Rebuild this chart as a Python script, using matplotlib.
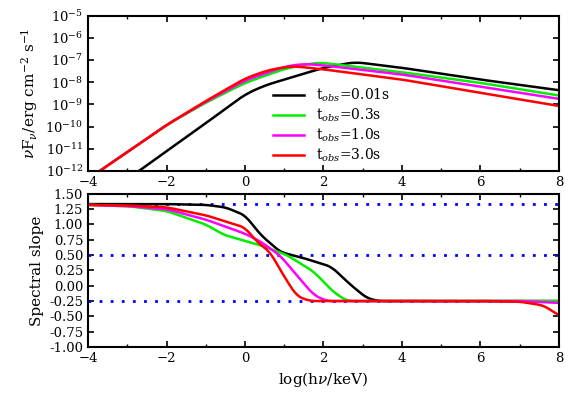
import numpy as np
import matplotlib.pyplot as plt
from matplotlib.ticker import MultipleLocator, LogLocator

plt.rcParams['font.family'] = ['DejaVu Serif']
plt.rcParams['mathtext.fontset'] = 'dejavuserif'

labels = ['t$_{obs}$=0.01s', 't$_{obs}$=0.3s', 't$_{obs}$=1.0s', 't$_{obs}$=3.0s']
colors = ['black', '#00ee00', '#ff00ff', 'red']

# spectra: log10(nu F_nu) vs log(h nu / keV)
sed_x = [
    [-2.7, -1, 0, 0.5, 1, 2, 2.8, 4, 6, 8],
    [-3.7, -2, -1, 0, 1, 1.8, 2, 4, 6, 8],
    [-3.7, -2, -1, 0, 1, 1.5, 2, 4, 6, 8],
    [-3.7, -2, -1, 0, 0.6, 1.2, 2, 4, 6, 8],
]
sed_y = [
    [-12, -9.85, -8.55, -8.15, -7.88, -7.35, -7.09, -7.35, -7.88, -8.36],
    [-12, -9.93, -8.92, -8.03, -7.4, -7.12, -7.13, -7.55, -8.03, -8.6],
    [-12, -9.93, -8.88, -7.92, -7.3, -7.17, -7.24, -7.65, -8.2, -8.75],
    [-12, -9.93, -8.85, -7.83, -7.45, -7.27, -7.42, -7.88, -8.48, -9.07],
]

# spectral slopes
sl_x = [
    [-4, -2, -1, -0.5, 0, 0.4, 0.9, 1.5, 2.2, 2.7, 3.1, 3.4, 6, 7, 8],
    [-4, -3, -2, -1, -0.54, 0.4, 1.07, 1.75, 2.25, 2.6, 6, 7, 8],
    [-4, -3, -2, -1, 0, 0.4, 0.9, 1.32, 1.75, 2.08, 6, 7, 8],
    [-4, -3, -2, -1, 0, 0.3, 0.64, 0.98, 1.32, 1.66, 6, 7, 7.6, 8],
]
sl_y = [
    [1.333, 1.333, 1.32, 1.28, 1.15, 0.83, 0.55, 0.45, 0.31, 0.01, -0.2, -0.25, -0.25, -0.25, -0.25],
    [1.32, 1.3, 1.22, 1.0, 0.83, 0.66, 0.5, 0.23, -0.1, -0.25, -0.25, -0.25, -0.25],
    [1.32, 1.3, 1.25, 1.08, 0.85, 0.72, 0.49, 0.17, -0.15, -0.25, -0.25, -0.25, -0.28],
    [1.32, 1.31, 1.28, 1.15, 0.95, 0.72, 0.55, 0.17, -0.17, -0.25, -0.25, -0.26, -0.32, -0.48],
]
ref_slopes = [4/3, 0.5, -0.25]


# round off the corners between read points (drawing only)
def smooth(xs, ys, w=0.25):
    fx = np.linspace(xs[0], xs[-1], 600)
    fy = np.interp(fx, xs, ys)
    n = max(1, int(w / (fx[1] - fx[0])))
    k = np.ones(2 * n + 1) / (2 * n + 1)
    pad = np.concatenate([2 * fy[0] - fy[n:0:-1], fy, 2 * fy[-1] - fy[-2:-n - 2:-1]])
    return fx, np.convolve(pad, k, mode='valid')


fig = plt.figure(figsize=(5.72, 4.03), dpi=100)
ax1 = fig.add_axes([0.154, 0.576, 0.823, 0.385])
ax2 = fig.add_axes([0.154, 0.139, 0.823, 0.38])

for xs, ys, c, lab in zip(sed_x, sed_y, colors, labels):
    fx, fy = smooth(xs, ys)
    ax1.plot(fx, 10**fy, color=c, lw=1.8, label=lab)
ax1.set_yscale('log')
ax1.set_ylim(1e-12, 1e-5)
ax1.set_xlim(-4, 8)
ax1.yaxis.set_major_locator(LogLocator(base=10, numticks=20))
ax1.yaxis.set_minor_locator(LogLocator(base=10, subs=[], numticks=20))
ax1.set_ylabel(r'$\nu$F$_\nu$/erg cm$^{-2}$ s$^{-1}$', fontsize=11)
ax1.legend(loc='upper left', bbox_to_anchor=(0.38, 0.58), frameon=False,
           fontsize=10, handlelength=2.3, labelspacing=0.2, borderaxespad=0)

for y in ref_slopes:
    ax2.axhline(y, color='blue', ls=(0, (1, 3)), lw=2)
for xs, ys, c in zip(sl_x, sl_y, colors):
    fx, fy = smooth(xs, ys, 0.15)
    ax2.plot(fx, fy, color=c, lw=1.8)
ax2.set_xlim(-4, 8)
ax2.set_ylim(-1, 1.5)
ax2.yaxis.set_major_locator(MultipleLocator(0.25))
ax2.yaxis.set_major_formatter(plt.FormatStrFormatter('%.2f'))
ax2.set_ylabel('Spectral slope', fontsize=11)
ax2.set_xlabel(r'log(h$\nu$/keV)', fontsize=11)

for ax in (ax1, ax2):
    ax.xaxis.set_major_locator(MultipleLocator(2))
    ax.xaxis.set_minor_locator(MultipleLocator(1))
    ax.tick_params(which='both', direction='in', top=True, right=True, labelsize=9.5)
    ax.tick_params(which='major', length=4, width=1.2)
    ax.tick_params(which='minor', length=2.5, width=1)
    for s in ax.spines.values():
        s.set_linewidth(1.5)

fig.savefig('out.png', dpi=100)
